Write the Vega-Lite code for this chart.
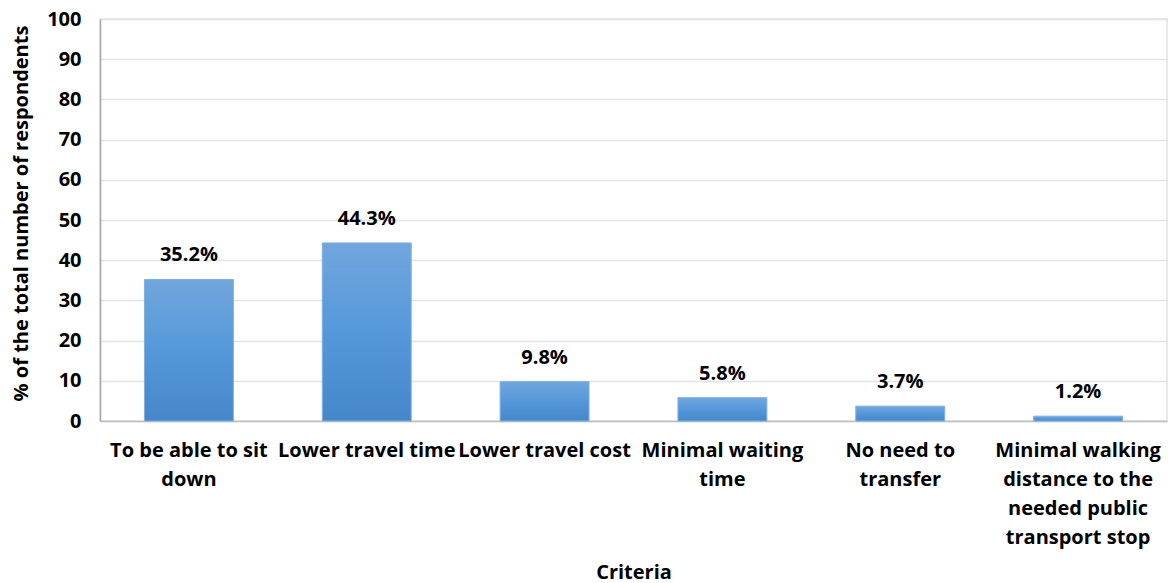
{
  "$schema": "https://vega.github.io/schema/vega-lite/v6.json",
  "width": 1067,
  "height": 402,
  "autosize": {"type": "none"},
  "padding": {"left": 100, "top": 19, "right": 4, "bottom": 162},
  "background": "white",
  "config": {
    "font": "Open Sans",
    "view": {"stroke": "#dfe2e6", "strokeWidth": 1.5}
  },
  "data": {
    "values": [
      {"criteria": "To be able to sit down", "pct": 35.2, "label": "35.2%"},
      {"criteria": "Lower travel time", "pct": 44.3, "label": "44.3%"},
      {"criteria": "Lower travel cost", "pct": 9.8, "label": "9.8%"},
      {"criteria": "Minimal waiting time", "pct": 5.8, "label": "5.8%"},
      {"criteria": "No need to transfer", "pct": 3.7, "label": "3.7%"},
      {"criteria": "Minimal walking distance to the needed public transport stop", "pct": 1.2, "label": "1.2%"}
    ]
  },
  "encoding": {
    "x": {
      "field": "criteria",
      "type": "nominal",
      "sort": null,
      "scale": {"paddingInner": 0.5, "paddingOuter": 0.25},
      "axis": {
        "title": "Criteria",
        "titleFont": "Open Sans",
        "titleFontSize": 20,
        "titleFontWeight": "bold",
        "titleColor": "#000000",
        "titleBaseline": "alphabetic",
        "titleY": 157,
        "labelAngle": 0,
        "labelFont": "Open Sans",
        "labelFontSize": 20,
        "labelFontWeight": "bold",
        "labelColor": "#000000",
        "labelPadding": 19,
        "labelLineHeight": 29,
        "labelLimit": 300,
        "labelBaseline": "top",
        "labelOverlap": false,
        "labelExpr": "datum.value == 'To be able to sit down' ? ['To be able to sit', 'down'] : datum.value == 'Minimal waiting time' ? ['Minimal waiting', 'time'] : datum.value == 'No need to transfer' ? ['No need to', 'transfer'] : datum.value == 'Minimal walking distance to the needed public transport stop' ? ['Minimal walking', 'distance to the', 'needed public', 'transport stop'] : datum.value",
        "ticks": false,
        "domainColor": "#bfbfbf",
        "domainWidth": 1.5,
        "grid": false
      }
    },
    "y": {
      "field": "pct",
      "type": "quantitative",
      "scale": {"domain": [0, 100]},
      "axis": {
        "title": "% of the total number of respondents",
        "titleFont": "Open Sans",
        "titleFontSize": 20,
        "titleFontWeight": "bold",
        "titleColor": "#000000",
        "titleAngle": -90,
        "titleX": -79,
        "titleY": 194,
        "titleAlign": "center",
        "titleBaseline": "middle",
        "values": [0, 10, 20, 30, 40, 50, 60, 70, 80, 90, 100],
        "labelFont": "Open Sans",
        "labelFontSize": 20,
        "labelFontWeight": "bold",
        "labelColor": "#000000",
        "labelPadding": 19,
        "ticks": false,
        "domainColor": "#a6a6a6",
        "domainWidth": 1.5,
        "grid": true,
        "gridColor": "#e0e3e8",
        "gridWidth": 1.5
      }
    }
  },
  "layer": [
    {
      "mark": {
        "type": "bar",
        "stroke": "#7fb0e2",
        "strokeWidth": 1,
        "color": {
          "gradient": "linear",
          "x1": 0, "y1": 0, "x2": 0, "y2": 1,
          "stops": [
            {"offset": 0, "color": "#71a6dc"},
            {"offset": 0.5, "color": "#5598da"},
            {"offset": 1, "color": "#4587c9"}
          ]
        }
      }
    },
    {
      "mark": {
        "type": "text",
        "font": "Open Sans",
        "fontSize": 20,
        "fontWeight": "bold",
        "color": "#000000",
        "baseline": "alphabetic",
        "dy": -18
      },
      "encoding": {
        "text": {"field": "label", "type": "nominal"}
      }
    }
  ]
}
